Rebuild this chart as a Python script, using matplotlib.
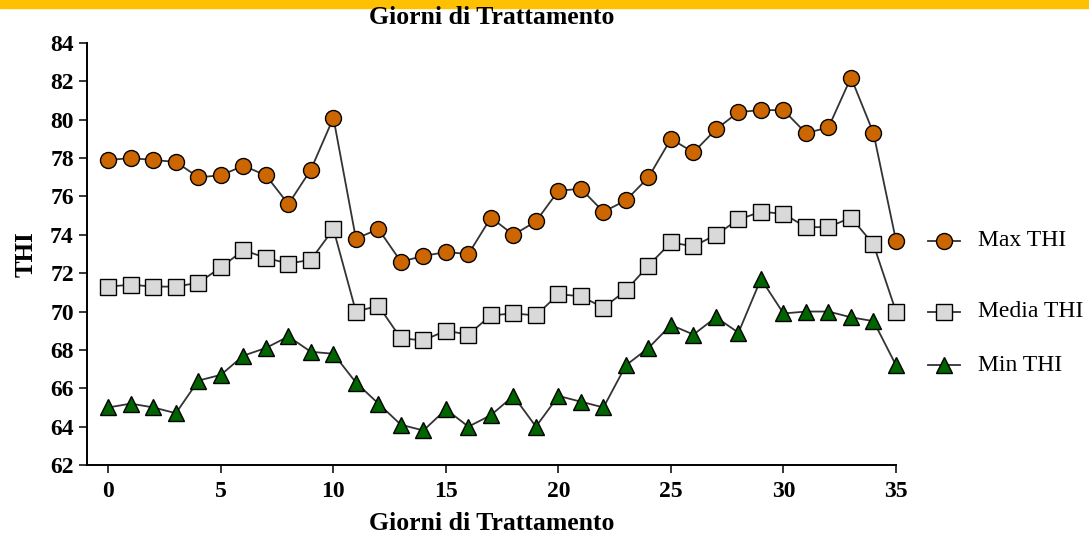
import numpy as np
import matplotlib.pyplot as plt
from matplotlib.patches import Rectangle
from matplotlib.transforms import blended_transform_factory

plt.rcParams['font.family'] = ['Liberation Serif', 'DejaVu Serif']

# giorni di trattamento
giorni = list(range(0, 36))

# THI massimo, medio e minimo giornaliero
max_thi = [77.9, 78.0, 77.9, 77.8, 77.0, 77.1, 77.6, 77.1, 75.6, 77.4,
           80.1, 73.8, 74.3, 72.6, 72.9, 73.1, 73.0, 74.9, 74.0, 74.7,
           76.3, 76.4, 75.2, 75.8, 77.0, 79.0, 78.3, 79.5, 80.4, 80.5,
           80.5, 79.3, 79.6, 82.2, 79.3, 73.7]
media_thi = [71.3, 71.4, 71.3, 71.3, 71.5, 72.3, 73.2, 72.8, 72.5, 72.7,
             74.3, 70.0, 70.3, 68.6, 68.5, 69.0, 68.8, 69.8, 69.9, 69.8,
             70.9, 70.8, 70.2, 71.1, 72.4, 73.6, 73.4, 74.0, 74.8, 75.2,
             75.1, 74.4, 74.4, 74.9, 73.5, 70.0]
min_thi = [65.0, 65.2, 65.0, 64.7, 66.4, 66.7, 67.7, 68.1, 68.7, 67.9,
           67.8, 66.3, 65.2, 64.1, 63.8, 64.9, 64.0, 64.6, 65.6, 64.0,
           65.6, 65.3, 65.0, 67.2, 68.1, 69.3, 68.8, 69.7, 68.9, 71.7,
           69.9, 70.0, 70.0, 69.7, 69.5, 67.2]

serie = [max_thi, media_thi, min_thi]
nomi = ['Max THI', 'Media THI', 'Min THI']
marker = ['o', 's', '^']
colori = ['#CC6600', '#D9D9D9', '#006400']

fig = plt.figure(figsize=(10.89, 5.38), dpi=100)
W, H = 1089, 538

# barra gialla in alto
fig.patches.append(Rectangle((0, 1 - 7.5 / H), 1, 7.5 / H, transform=fig.transFigure,
                             color='#FFC000', zorder=0))

ax = fig.add_axes([87 / W, 1 - 465 / H, (896 - 87) / W, (465 - 43) / H])

trans = blended_transform_factory(ax.transAxes, ax.transData)

for s, n, m, c in zip(serie, nomi, marker, colori):
    ax.plot(giorni, s, color='#333333', lw=1.3, marker=m, ms=11.5,
            mfc=c, mec='black', mew=1.0, clip_on=False, zorder=3)
    # etichetta della serie accanto all'ultimo valore
    ax.plot([1.0396, 1.079], [s[-1], s[-1]], transform=trans, color='#333333',
            lw=1.3, clip_on=False)
    ax.plot([1.0593], [s[-1]], transform=trans, marker=m, ms=11.5, mfc=c,
            mec='black', mew=1.0, clip_on=False)
    ax.text(1.1014, s[-1], n, transform=trans, fontsize=17, va='center', ha='left')

ax.set_xlim(-0.95, 35)
ax.set_ylim(62, 84)
ax.set_xticks([0, 5, 10, 15, 20, 25, 30, 35])
ax.set_yticks(range(62, 85, 2))

for sp in ['top', 'right']:
    ax.spines[sp].set_visible(False)
for sp in ['left', 'bottom']:
    ax.spines[sp].set_linewidth(1.4)

ax.tick_params(direction='out', length=5.5, width=1.1, labelsize=17, pad=4)
ax.tick_params(axis='x', pad=6)
for lab in ax.get_xticklabels() + ax.get_yticklabels():
    lab.set_fontweight('bold')

ax.set_xlabel('Giorni di Trattamento', fontsize=18.5, fontweight='bold', labelpad=7)
ax.set_ylabel('THI', fontsize=18, fontweight='bold', labelpad=9)

fig.text(0.4513, 1 - 17.5 / H, 'Giorni di Trattamento', fontsize=18.5,
         fontweight='bold', ha='center', va='center')

plt.savefig('out.png', dpi=100)
